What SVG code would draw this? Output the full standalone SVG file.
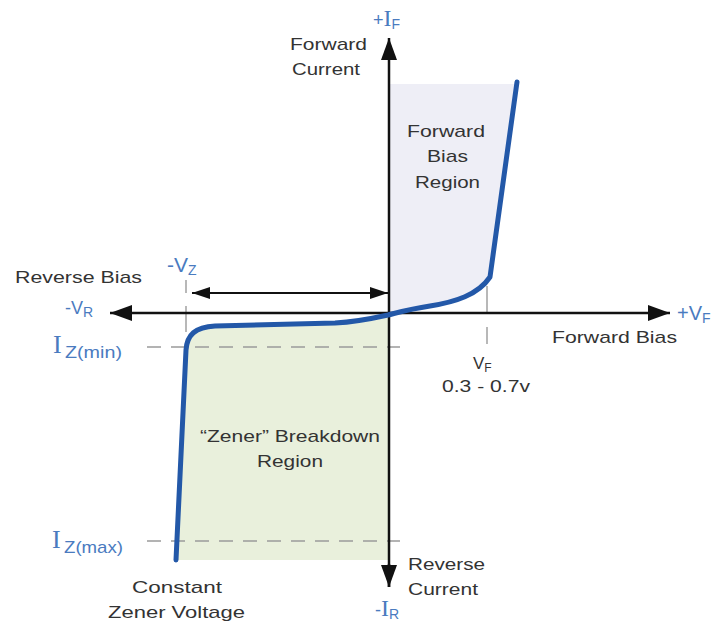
<svg xmlns="http://www.w3.org/2000/svg" width="712" height="623" viewBox="0 0 712 623">
<style>
.t{font-family:"Liberation Sans",Arial,sans-serif;font-size:17px;fill:#333}
.b{font-family:"Liberation Sans",Arial,sans-serif;fill:#4a7bbf}
.serif{font-family:"Liberation Serif","Times New Roman",serif}
.axis{stroke:#111;stroke-width:2.5;fill:none}
.dash{stroke:#9a9a9a;stroke-width:1.6;fill:none;stroke-dasharray:14 10}
.tick{stroke:#9a9a9a;stroke-width:1.4;fill:none}
.curve{stroke:#2358a8;stroke-width:5;fill:none;stroke-linecap:round;stroke-linejoin:round}
</style>
<defs>
<marker id="ah" viewBox="0 0 22 16" refX="22" refY="8" markerWidth="22" markerHeight="16" markerUnits="userSpaceOnUse" orient="auto">
<path d="M0,0 L22,8 L0,16 Z" fill="#111"/>
</marker>
<marker id="ahs" viewBox="0 0 18 12" refX="18" refY="6" markerWidth="18" markerHeight="12" markerUnits="userSpaceOnUse" orient="auto-start-reverse">
<path d="M0,0 L18,6 L0,12 Z" fill="#111"/>
</marker>
</defs>
<rect width="712" height="623" fill="#fff"/>

<g id="forward-region">
<path d="M390,84 L515,84 L490,277 C478,295 455,302 430,306 C410,309 400,312 390,314 Z" fill="#eeeef6"/>
<text class="t" x="407" y="137" textLength="78" lengthAdjust="spacingAndGlyphs">Forward</text>
<text class="t" x="427" y="162" textLength="41" lengthAdjust="spacingAndGlyphs">Bias</text>
<text class="t" x="415" y="188" textLength="65" lengthAdjust="spacingAndGlyphs">Region</text>
</g>

<g id="zener-region">
<path d="M388,315 C370,319 355,322 335,323 L215,326 C195,327 187,335 186,350 L176,560 L388,560 Z" fill="#e9f0dc"/>
<text class="t" x="200" y="442" textLength="180" lengthAdjust="spacingAndGlyphs">“Zener” Breakdown</text>
<text class="t" x="257" y="467" textLength="66" lengthAdjust="spacingAndGlyphs">Region</text>
</g>

<g id="guides">
<line class="dash" x1="147" y1="347" x2="400" y2="347"/>
<line class="dash" x1="147" y1="541" x2="400" y2="541"/>
<line class="tick" x1="186" y1="280" x2="186" y2="293"/>
<line class="tick" x1="186" y1="306" x2="186" y2="332"/>
<line class="tick" x1="487" y1="286" x2="487" y2="314"/>
<line class="tick" x1="487" y1="327" x2="487" y2="344"/>
</g>

<g id="connectors">
<line class="axis" x1="389" y1="587" x2="389" y2="38" marker-end="url(#ah)"/>
<line class="axis" x1="389" y1="564" x2="389" y2="587" marker-end="url(#ah)"/>
<line class="axis" x1="389" y1="313" x2="110" y2="313" marker-end="url(#ah)"/>
<line class="axis" x1="389" y1="313" x2="670" y2="313" marker-end="url(#ah)"/>
<line stroke="#111" stroke-width="2" x1="192" y1="293" x2="388" y2="293" marker-start="url(#ahs)" marker-end="url(#ahs)"/>
</g>

<g id="curve">
<path class="curve" d="M517,82 L490,277 C478,295 455,302 430,306 C410,309 400,312 388,315 C370,319 355,322 335,323 L215,326 C195,327 187,335 186,350 L176,560"/>
</g>

<g id="labels">
<text class="b" x="373" y="26" font-size="18">+<tspan class="serif" font-size="24">I</tspan><tspan font-size="14" dy="3">F</tspan></text>
<text class="t" x="290" y="50" textLength="77" lengthAdjust="spacingAndGlyphs">Forward</text>
<text class="t" x="292" y="75" textLength="68" lengthAdjust="spacingAndGlyphs">Current</text>
<text class="t" x="15" y="283" font-size="18" textLength="127" lengthAdjust="spacingAndGlyphs">Reverse Bias</text>
<text class="b" x="167" y="272" font-size="21">-V<tspan font-size="14" dy="3">Z</tspan></text>
<text class="b" x="65" y="314" font-size="18">-V<tspan font-size="14" dy="3">R</tspan></text>
<text class="b" x="677" y="320" font-size="20">+V<tspan font-size="14" dy="3">F</tspan></text>
<text class="t" x="552" y="343" textLength="125" lengthAdjust="spacingAndGlyphs">Forward Bias</text>
<text class="t" x="473" y="369">V<tspan font-size="12" dy="3">F</tspan></text>
<text class="t" x="442" y="392" textLength="88" lengthAdjust="spacingAndGlyphs">0.3 - 0.7v</text>
<text class="b" x="53" y="353"><tspan class="serif" font-size="26">I</tspan><tspan x="65" font-size="17" dy="5" textLength="57" lengthAdjust="spacingAndGlyphs">Z(min)</tspan></text>
<text class="b" x="52" y="548"><tspan class="serif" font-size="26">I</tspan><tspan x="64" font-size="17" dy="5" textLength="59" lengthAdjust="spacingAndGlyphs">Z(max)</tspan></text>
<text class="t" x="408" y="570" textLength="77" lengthAdjust="spacingAndGlyphs">Reverse</text>
<text class="t" x="408" y="595" textLength="70" lengthAdjust="spacingAndGlyphs">Current</text>
<text class="b" x="375" y="616" font-size="18">-<tspan class="serif" font-size="24">I</tspan><tspan font-size="14" dy="3">R</tspan></text>
<text class="t" x="132" y="593" textLength="90" lengthAdjust="spacingAndGlyphs">Constant</text>
<text class="t" x="108" y="618" textLength="137" lengthAdjust="spacingAndGlyphs">Zener Voltage</text>
</g>
</svg>
